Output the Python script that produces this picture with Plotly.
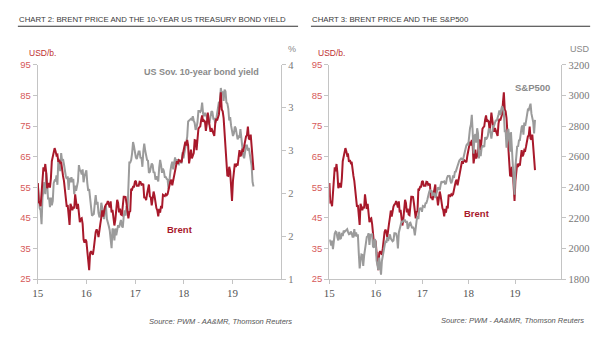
import pandas as pd
import plotly.graph_objects as go

# ---------------- data (weekly, Friday closes) ----------------
brent_2015 = [56.4, 50.1, 50.2, 48.8, 53.0, 57.8, 61.5, 60.2, 62.6, 59.7, 54.7, 55.3, 56.4,
              54.9, 57.9, 63.5, 65.3, 66.5, 67.8, 66.8, 65.4, 65.6, 63.3, 63.9, 63.0, 63.3,
              60.3, 58.7, 57.1, 54.6, 52.2, 48.6, 49.2, 45.5, 42.7, 49.6, 48.1, 47.5, 48.6,
              48.1, 52.7, 50.5, 47.9, 49.6, 47.4, 43.6, 44.7, 44.9, 43.0, 37.9, 36.9, 37.9]
brent_2016 = [37.3, 33.6, 28.9, 27.9, 33.5, 34.1, 33.4, 33.0, 35.1, 38.7, 40.4, 41.2, 40.4,
              38.7, 41.9, 43.1, 45.1, 47.4, 45.4, 47.8, 48.7, 49.3, 49.6, 50.5, 49.2, 48.4,
              50.4, 46.8, 47.6, 45.7, 42.5, 44.3, 47.0, 50.9, 49.9, 46.8, 48.0, 46.1, 45.9,
              49.2, 51.9, 51.9, 51.8, 49.7, 45.6, 44.8, 46.9, 47.2, 54.5, 54.3, 55.2, 55.2, 56.8]
brent_2017 = [57.1, 55.5, 55.5, 55.5, 56.8, 56.7, 55.8, 56.0, 55.9, 51.4, 51.8, 50.8, 52.8,
              54.8, 55.9, 52.0, 51.7, 49.1, 50.8, 53.6, 52.2, 49.9, 48.2, 47.4, 45.5, 47.9,
              46.7, 48.9, 48.1, 52.5, 52.4, 52.1, 52.7, 52.4, 52.8, 53.8, 55.6, 56.9, 57.5,
              55.6, 57.2, 57.8, 60.4, 62.1, 63.5, 62.7, 63.9, 63.7, 63.4, 63.2, 65.3, 66.9]
brent_2018 = [67.6, 69.9, 68.6, 70.5, 68.6, 62.8, 64.8, 67.3, 64.4, 65.5, 66.2, 70.4, 70.3,
              67.1, 72.6, 74.1, 74.6, 74.9, 77.1, 78.5, 76.4, 76.8, 76.5, 73.4, 75.6, 79.4,
              77.1, 75.3, 73.1, 74.3, 73.2, 72.8, 71.8, 75.8, 77.4, 76.8, 78.1, 78.8, 82.7,
              86.0, 80.4, 79.8, 77.6, 72.8, 70.2, 66.8, 58.8, 58.7, 61.7, 60.3, 53.8, 50.5]
brent_2019 = [57.1, 60.5, 62.7, 61.6, 62.8, 62.1, 66.3, 67.1, 65.1, 65.7, 67.2, 67.0, 68.4,
              70.3, 71.6, 72.0, 74.8, 70.9, 70.6, 72.2, 68.7, 64.5, 60.6]

yield_2015 = [2.11, 1.95, 1.83, 1.80, 1.64, 1.95, 2.02, 2.13, 1.99, 2.24, 2.11, 1.93, 1.95,
              1.84, 1.95, 1.86, 1.91, 2.12, 2.15, 2.14, 2.21, 2.10, 2.40, 2.39, 2.26, 2.47,
              2.38, 2.40, 2.34, 2.26, 2.20, 2.17, 2.20, 2.04, 2.18, 2.13, 2.19, 2.13, 2.17,
              1.99, 2.09, 2.03, 2.08, 2.14, 2.33, 2.27, 2.26, 2.22, 2.28, 2.13, 2.20, 2.25]
yield_2016 = [2.27, 2.12, 2.03, 2.05, 1.92, 1.84, 1.74, 1.75, 1.76, 1.88, 1.98, 1.87, 1.90,
              1.77, 1.72, 1.75, 1.89, 1.83, 1.78, 1.70, 1.84, 1.85, 1.70, 1.64, 1.62, 1.57,
              1.44, 1.36, 1.59, 1.57, 1.45, 1.59, 1.51, 1.58, 1.63, 1.60, 1.67, 1.69, 1.62,
              1.60, 1.73, 1.80, 1.74, 1.85, 1.78, 2.15, 2.36, 2.36, 2.39, 2.47, 2.60, 2.55, 2.45]
yield_2017 = [2.42, 2.40, 2.47, 2.49, 2.49, 2.41, 2.42, 2.31, 2.49, 2.58, 2.50, 2.41, 2.39,
              2.38, 2.24, 2.25, 2.29, 2.35, 2.33, 2.24, 2.25, 2.16, 2.20, 2.15, 2.14, 2.30,
              2.39, 2.33, 2.24, 2.29, 2.26, 2.19, 2.19, 2.17, 2.16, 2.05, 2.20, 2.26, 2.33,
              2.37, 2.28, 2.39, 2.42, 2.34, 2.40, 2.35, 2.34, 2.37, 2.38, 2.35, 2.48, 2.41]
yield_2018 = [2.48, 2.55, 2.64, 2.66, 2.84, 2.85, 2.87, 2.87, 2.86, 2.90, 2.85, 2.82, 2.74,
              2.77, 2.83, 2.96, 2.96, 2.95, 2.97, 3.06, 2.93, 2.90, 2.94, 2.92, 2.89, 2.86,
              2.82, 2.83, 2.89, 2.96, 2.95, 2.87, 2.87, 2.82, 2.86, 2.94, 2.99, 3.07, 3.05,
              3.23, 3.16, 3.19, 3.08, 3.21, 3.19, 3.06, 3.05, 2.99, 2.85, 2.89, 2.79, 2.72]
yield_2019 = [2.67, 2.70, 2.78, 2.76, 2.68, 2.63, 2.66, 2.65, 2.75, 2.63, 2.59, 2.44, 2.41,
              2.50, 2.56, 2.56, 2.50, 2.53, 2.45, 2.39, 2.32, 2.13, 2.08]

spx_2015 = [2058, 2045, 2019, 2051, 1995, 2055, 2097, 2110, 2105, 2071, 2053, 2108, 2061,
            2067, 2102, 2081, 2117, 2108, 2116, 2123, 2126, 2107, 2092, 2094, 2110, 2101,
            2077, 2077, 2127, 2079, 2104, 2078, 2092, 1971, 1870, 1921, 1961, 1958, 1885,
            1951, 2015, 2033, 2075, 2079, 2100, 2023, 2089, 2090, 2092, 2012, 2006, 2061]
spx_2016 = [2044, 1922, 1880, 1859, 1940, 1880, 1829, 1918, 1948, 2000, 2022, 2050, 2036,
            2073, 2048, 2081, 2092, 2065, 2057, 2047, 2052, 2099, 2099, 2096, 2071, 2000,
            2103, 2130, 2162, 2175, 2174, 2183, 2184, 2184, 2169, 2180, 2128, 2139, 2165,
            2168, 2153, 2133, 2141, 2126, 2085, 2164, 2182, 2213, 2192, 2260, 2258, 2264, 2239]
spx_2017 = [2277, 2275, 2271, 2295, 2297, 2316, 2351, 2367, 2383, 2373, 2378, 2344, 2363,
            2356, 2329, 2349, 2384, 2399, 2391, 2382, 2416, 2439, 2432, 2433, 2438, 2423,
            2425, 2459, 2473, 2472, 2477, 2441, 2426, 2443, 2477, 2461, 2500, 2502, 2519,
            2549, 2553, 2575, 2581, 2588, 2582, 2579, 2603, 2642, 2652, 2675, 2683, 2674]
spx_2018 = [2743, 2786, 2810, 2873, 2762, 2620, 2732, 2747, 2691, 2786, 2752, 2588, 2641,
            2604, 2656, 2670, 2670, 2663, 2728, 2713, 2721, 2735, 2779, 2780, 2755, 2718,
            2760, 2801, 2802, 2819, 2840, 2833, 2850, 2875, 2902, 2872, 2905, 2930, 2914,
            2886, 2767, 2768, 2658, 2723, 2781, 2736, 2633, 2760, 2633, 2600, 2417, 2351]
spx_2019 = [2532, 2596, 2671, 2665, 2707, 2708, 2776, 2793, 2804, 2743, 2822, 2801, 2834,
            2893, 2907, 2905, 2940, 2946, 2881, 2860, 2826, 2752, 2840]

year_starts = ["2015-01-02", "2016-01-01", "2017-01-06", "2018-01-05", "2019-01-04"]
year_ends = ["2015-12-25", "2016-12-30", "2017-12-29", "2018-12-28", "2019-06-07"]
year_ticks = ["2015-01-01", "2016-01-01", "2017-01-01", "2018-01-01", "2019-01-01"]
year_labels = ["15", "16", "17", "18", "19"]


def build(parts):
    xs, ys = [], []
    for s, e, vals in zip(year_starts, year_ends, parts):
        xs += list(pd.date_range(s, e, periods=len(vals)))
        ys += vals
    return xs, ys


bx, by = build([brent_2015, brent_2016, brent_2017, brent_2018, brent_2019])
yx, yy = build([yield_2015, yield_2016, yield_2017, yield_2018, yield_2019])
sx, sy = build([spx_2015, spx_2016, spx_2017, spx_2018, spx_2019])

# ---------------- style ----------------
W, H = 605, 341
RED = "#a8192b"
GRAY = "#9b9b9b"
TICKRED = "#d65a5a"
AXC = "#c4c4c4"
SANS = "Liberation Sans, Arial, sans-serif"
SERIF = "Liberation Serif, Times New Roman, serif"


def px(x, y):
    return x / W, 1 - y / H


fig = go.Figure()
# Chart 2
fig.add_trace(go.Scatter(x=yx, y=yy, xaxis="x", yaxis="y", mode="lines",
                         line=dict(color=GRAY, width=2), hoverinfo="skip"))
fig.add_trace(go.Scatter(x=bx, y=by, xaxis="x", yaxis="y2", mode="lines",
                         line=dict(color=RED, width=2), hoverinfo="skip"))
# Chart 3
fig.add_trace(go.Scatter(x=bx, y=by, xaxis="x2", yaxis="y3", mode="lines",
                         line=dict(color=RED, width=2), hoverinfo="skip"))
fig.add_trace(go.Scatter(x=sx, y=sy, xaxis="x2", yaxis="y4", mode="lines",
                         line=dict(color=GRAY, width=2), hoverinfo="skip"))

ydom = [1 - 283 / H, 1 - 61 / H]
xcommon = dict(type="date", range=["2015-01-01", "2020-01-01"], tickvals=year_ticks,
               ticktext=year_labels, showgrid=False, zeroline=False, showline=True,
               linecolor=AXC, linewidth=1, ticks="outside", ticklen=4, tickcolor=AXC,
               tickfont=dict(family=SERIF, size=11, color="#555555"))
leftax = dict(range=[25, 95], dtick=10, tick0=25, showgrid=False, zeroline=False,
              showline=True, linecolor=AXC, ticks="outside", ticklen=4, tickcolor=AXC,
              tickfont=dict(family=SANS, size=9.5, color=TICKRED))
rightcommon = dict(showgrid=False, zeroline=False, showline=True, linecolor=AXC,
                   ticks="outside", ticklen=4, tickcolor=AXC,
                   tickfont=dict(family=SERIF, size=10.5, color="#777777"))

fig.update_layout(
    width=W, height=H, margin=dict(l=0, r=0, t=0, b=0),
    paper_bgcolor="white", plot_bgcolor="white", showlegend=False,
    xaxis=dict(domain=[32 / W, 278 / W], anchor="y", **xcommon),
    xaxis2=dict(domain=[326.5 / W, 561 / W], anchor="y3", **xcommon),
    yaxis=dict(anchor="x", side="right", range=[1, 3.5], dtick=0.5, tick0=1,
               tickformat=".0f", domain=ydom, **rightcommon),
    yaxis2=dict(anchor="x", overlaying="y", side="left", **leftax),
    yaxis3=dict(anchor="x2", side="left", domain=ydom, **leftax),
    yaxis4=dict(anchor="x2", overlaying="y3", side="right", range=[1800, 3200], dtick=200,
                tick0=1800, **rightcommon),
)

shapes = []
for x0, x1 in [(12, 295), (308, 590)]:
    a, yl = px(x0, 21)
    b, _ = px(x1, 21)
    shapes.append(dict(type="line", xref="paper", yref="paper", x0=a, x1=b, y0=yl, y1=yl,
                       line=dict(color="#333333", width=1)))
fig.update_layout(shapes=shapes)

ann = []


def text(t, x, y, xanchor="left", size=10, color="#333333", family=SANS, bold=False, italic=False):
    xx, yy_ = px(x, y)
    s = t
    if bold:
        s = "<b>" + s + "</b>"
    if italic:
        s = "<i>" + s + "</i>"
    ann.append(dict(text=s, x=xx, y=yy_, xref="paper", yref="paper", xanchor=xanchor,
                    yanchor="middle", showarrow=False,
                    font=dict(family=family, size=size, color=color)))


text("CHART 2: BRENT PRICE AND THE 10-YEAR US TREASURY BOND YIELD", 11, 14, size=7.8, color="#3a3a3a")
text("CHART 3: BRENT PRICE AND THE S&amp;P500", 307, 14, size=7.8, color="#3a3a3a")
text("USD/b.", 21, 49, size=8.5, color="#c03030")
text("%", 283, 45, size=9, color="#888888")
text("USD/b.", 313, 49, size=8.5, color="#c03030")
text("USD", 568, 45, size=9, color="#888888")
text("US Sov. 10-year bond yield", 137, 68, size=9, color="#8a8a8a", bold=True)
text("Brent", 161, 232, size=9.5, color=RED, bold=True)
text("S&amp;P500", 512, 84, size=9.5, color="#8a8a8a", bold=True)
text("Brent", 461, 215, size=9.5, color=RED, bold=True)
text("Source: PWM - AA&amp;MR, Thomson Reuters", 291, 327, xanchor="right", size=7.5,
     color="#555555", italic=True)
text("Source: PWM - AA&amp;MR, Thomson Reuters", 586, 326, xanchor="right", size=7.5,
     color="#555555", italic=True)
fig.update_layout(annotations=ann)

fig.write_html("out.html")
